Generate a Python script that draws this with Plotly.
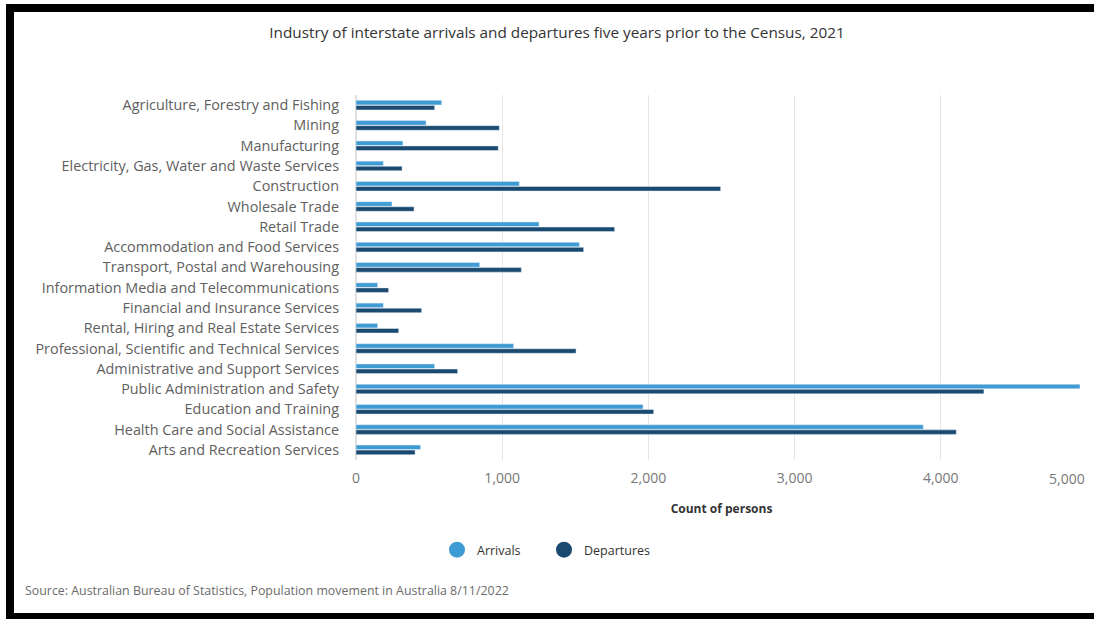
import plotly.graph_objects as go

categories = [
    "Agriculture, Forestry and Fishing",
    "Mining",
    "Manufacturing",
    "Electricity, Gas, Water and Waste Services",
    "Construction",
    "Wholesale Trade",
    "Retail Trade",
    "Accommodation and Food Services",
    "Transport, Postal and Warehousing",
    "Information Media and Telecommunications",
    "Financial and Insurance Services",
    "Rental, Hiring and Real Estate Services",
    "Professional, Scientific and Technical Services",
    "Administrative and Support Services",
    "Public Administration and Safety",
    "Education and Training",
    "Health Care and Social Assistance",
    "Arts and Recreation Services",
]
arrivals = [586, 479, 321, 187, 1117, 246, 1252, 1528, 846, 148, 187, 148, 1078, 538, 4952, 1963, 3880, 442]
departures = [538, 980, 973, 315, 2494, 397, 1769, 1557, 1131, 223, 449, 292, 1505, 695, 4295, 2036, 4106, 404]
x_tickvals = [0, 1000, 2000, 3000, 4000, 5000]
x_ticktext = ["0", "1,000", "2,000", "3,000", "4,000", ""]

C_ARR = "#3f9bd3"
C_DEP = "#1b4a71"
FONT = "Open Sans"

W, H = 1094, 619
L, R, T, B = 356, 7, 95, 159
pw = W - L - R
ph = H - T - B

def px_x(p):
    return (p - L) / pw

def px_y(p):
    return (H - B - p) / ph

fig = go.Figure()
fig.add_trace(go.Bar(y=categories, x=arrivals, orientation="h", name="Arrivals",
                     marker=dict(color=C_ARR), showlegend=False))
fig.add_trace(go.Bar(y=categories, x=departures, orientation="h", name="Departures",
                     marker=dict(color=C_DEP), showlegend=False))
for nm, col in [("Arrivals", C_ARR), ("Departures", C_DEP)]:
    fig.add_trace(go.Scatter(x=[None], y=[None], mode="markers", name=nm,
                             marker=dict(color=col, size=16, symbol="circle")))

shapes = [
    dict(type="rect", xref="paper", yref="paper", x0=px_x(6), x1=px_x(W + 5),
         y0=px_y(12), y1=px_y(4), fillcolor="black", line_width=0, layer="above"),
    dict(type="rect", xref="paper", yref="paper", x0=px_x(6), x1=px_x(14),
         y0=px_y(H + 5), y1=px_y(4), fillcolor="black", line_width=0, layer="above"),
    dict(type="rect", xref="paper", yref="paper", x0=px_x(6), x1=px_x(W + 5),
         y0=px_y(H + 5), y1=px_y(613), fillcolor="black", line_width=0, layer="above"),
]

annotations = [
    dict(text="Source: Australian Bureau of Statistics, Population movement in Australia 8/11/2022",
         xref="paper", yref="paper", x=px_x(23), y=px_y(590), xanchor="left", yanchor="middle",
         showarrow=False, font=dict(family=FONT, size=12.4, color="#6b6b6b")),
    dict(text=f"{x_tickvals[-1]:,}", xref="x", yref="paper", x=x_tickvals[-1], y=px_y(479),
         xanchor="right", yanchor="middle", showarrow=False,
         font=dict(family=FONT, size=14, color="#777777")),
]

fig.update_layout(
    width=W, height=H,
    margin=dict(l=L, r=R, t=T, b=B),
    paper_bgcolor="white", plot_bgcolor="white",
    title=dict(text="Industry of interstate arrivals and departures five years prior to the Census, 2021",
               x=557 / W, xref="container", xanchor="center", y=1 - 33 / H, yanchor="middle",
               font=dict(family=FONT, size=15.3, color="#333333")),
    barmode="group", bargap=0.5, bargroupgap=0.1,
    font=dict(family=FONT, color="#555555"),
    xaxis=dict(range=[0, 5000], tickvals=x_tickvals, ticktext=x_ticktext,
               showgrid=True, gridcolor="#e6e6e6", gridwidth=1, zeroline=True,
               zerolinecolor="#e0e0e0", showline=False,
               tickfont=dict(family=FONT, size=14, color="#777777"),
               ticklabelstandoff=8,
               title=dict(text="<b>Count of persons</b>", standoff=18,
                          font=dict(family=FONT, size=12, color="#333333"))),
    yaxis=dict(autorange="reversed", showgrid=False, zeroline=False,
               tickfont=dict(family=FONT, size=14.4, color="#606060"),
               ticklabelstandoff=16),
    legend=dict(orientation="h", x=px_x(437), xanchor="left", y=px_y(550), yanchor="middle",
                font=dict(family=FONT, size=12.5, color="#333333"), itemsizing="trace",
                entrywidth=62, entrywidthmode="pixels"),
    shapes=shapes, annotations=annotations,
)

fig.write_html("out.html")
